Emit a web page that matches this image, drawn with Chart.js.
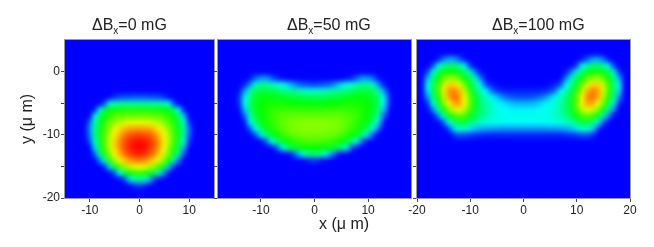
<!DOCTYPE html>
<html>
<head>
<meta charset="utf-8">
<script src="https://cdn.jsdelivr.net/npm/chart.js@4"></script>
<style>
  html, body { margin: 0; padding: 0; background: #fff; }
  #wrap { position: relative; width: 654px; height: 247px; overflow: hidden; font-family: "Liberation Sans", Arial, sans-serif; color: #222; }
  canvas { position: absolute; left: 0; top: 0; }
  .title { position: absolute; top: 16px; font-size: 16px; line-height: 18px; white-space: nowrap; }
  .title sub { font-size: 10px; line-height: 0; vertical-align: -4px; }
  #xTitle { position: absolute; left: 319px; top: 214px; font-size: 16px; line-height: 20px; white-space: nowrap; }
</style>
</head>
<body>
<div id="wrap">
  <canvas id="c1" width="654" height="247"></canvas>
  <canvas id="c2" width="654" height="247"></canvas>
  <canvas id="c3" width="654" height="247"></canvas>
  <div class="title" style="left:92px">ΔB<sub>x</sub>=0 mG</div>
  <div class="title" style="left:287px">ΔB<sub>x</sub>=50 mG</div>
  <div class="title" style="left:492px">ΔB<sub>x</sub>=100 mG</div>
  <div id="xTitle">x (μ m)</div>
</div>
<script>
// cell centres, y is shared by all three panels
const yRows = [5, 4, 3, 2, 1, 0, -1, -2, -3, -4, -5, -6, -7, -8, -9, -10, -11, -12, -13, -14, -15, -16, -17, -18, -19, -20];
const xCols1 = [-15, -14, -13, -12, -11, -10, -9, -8, -7, -6, -5, -4, -3, -2, -1, 0, 1, 2, 3, 4, 5, 6, 7, 8, 9, 10, 11, 12, 13, 14, 15];
const xCols2 = [-18, -17, -16, -15, -14, -13, -12, -11, -10, -9, -8, -7, -6, -5, -4, -3, -2, -1, 0, 1, 2, 3, 4, 5, 6, 7, 8, 9, 10, 11, 12, 13, 14, 15, 16, 17, 18];
const xCols3 = [-20, -19, -18, -17, -16, -15, -14, -13, -12, -11, -10, -9, -8, -7, -6, -5, -4, -3, -2, -1, 0, 1, 2, 3, 4, 5, 6, 7, 8, 9, 10, 11, 12, 13, 14, 15, 16, 17, 18, 19, 20];

const xTicks1 = [-10, 0, 10];
const xTicks2 = [-10, 0, 10];
const xTicks3 = [-20, -10, 0, 10, 20];
const yTicks = [0, -5, -10, -15, -20];

// intensity, 0 = blue, 100 = red. An empty row is all blue
const values0mG = [
  [], [], [], [], [], [], [], [], [],
  [0, 0, 0, 0, 0, 0, 0, 0, 0, 1, 5, 7, 8, 8, 9, 9, 9, 8, 8, 7, 5, 1, 0, 0, 0, 0, 0, 0, 0, 0, 0],
  [0, 0, 0, 0, 0, 0, 0, 0, 8, 30, 34, 36, 36, 36, 36, 36, 36, 36, 36, 35, 33, 28, 7, 0, 0, 0, 0, 0, 0, 0, 0],
  [0, 0, 0, 0, 0, 0, 2, 28, 44, 50, 52, 52, 53, 53, 53, 53, 53, 53, 52, 52, 50, 48, 42, 25, 2, 0, 0, 0, 0, 0, 0],
  [0, 0, 0, 0, 0, 0, 26, 42, 50, 55, 58, 60, 60, 61, 61, 61, 61, 61, 60, 59, 57, 54, 49, 40, 22, 0, 0, 0, 0, 0, 0],
  [0, 0, 0, 0, 0, 10, 32, 46, 54, 60, 65, 68, 71, 72, 73, 73, 73, 72, 70, 67, 63, 58, 53, 44, 30, 6, 0, 0, 0, 0, 0],
  [0, 0, 0, 0, 0, 14, 34, 48, 56, 64, 72, 78, 82, 84, 85, 85, 85, 84, 81, 76, 70, 62, 55, 47, 33, 12, 0, 0, 0, 0, 0],
  [0, 0, 0, 0, 0, 12, 34, 48, 58, 67, 76, 83, 88, 92, 93, 94, 93, 92, 88, 82, 74, 65, 56, 47, 33, 10, 0, 0, 0, 0, 0],
  [0, 0, 0, 0, 0, 7, 30, 47, 58, 69, 79, 86, 92, 96, 98, 99, 98, 96, 92, 85, 76, 66, 56, 45, 28, 5, 0, 0, 0, 0, 0],
  [0, 0, 0, 0, 0, 0, 21, 44, 56, 68, 78, 86, 92, 97, 99, 100, 99, 96, 91, 84, 74, 63, 53, 42, 18, 0, 0, 0, 0, 0, 0],
  [0, 0, 0, 0, 0, 0, 8, 34, 51, 63, 74, 82, 89, 93, 96, 97, 95, 92, 87, 79, 70, 59, 48, 32, 6, 0, 0, 0, 0, 0, 0],
  [0, 0, 0, 0, 0, 0, 0, 12, 30, 54, 64, 73, 80, 85, 87, 88, 86, 83, 78, 71, 62, 51, 28, 10, 0, 0, 0, 0, 0, 0, 0],
  [0, 0, 0, 0, 0, 0, 0, 0, 4, 22, 46, 57, 64, 69, 72, 73, 71, 68, 63, 55, 44, 20, 3, 0, 0, 0, 0, 0, 0, 0, 0],
  [0, 0, 0, 0, 0, 0, 0, 0, 0, 0, 8, 25, 42, 50, 53, 54, 53, 49, 41, 33, 14, 1, 0, 0, 0, 0, 0, 0, 0, 0, 0],
  [0, 0, 0, 0, 0, 0, 0, 0, 0, 0, 0, 0, 6, 22, 31, 34, 31, 20, 6, 0, 0, 0, 0, 0, 0, 0, 0, 0, 0, 0, 0],
  [0, 0, 0, 0, 0, 0, 0, 0, 0, 0, 0, 0, 0, 0, 4, 6, 4, 0, 0, 0, 0, 0, 0, 0, 0, 0, 0, 0, 0, 0, 0],
  [], []
];
const values50mG = [
  [], [], [], [], [], [],
  [0, 0, 0, 0, 0, 0, 2, 10, 15, 15, 10, 4, 1, 0, 0, 0, 0, 0, 0, 0, 0, 0, 0, 0, 1, 4, 10, 15, 15, 10, 2, 0, 0, 0, 0, 0, 0],
  [0, 0, 0, 0, 0, 3, 14, 31, 36, 36, 34, 30, 27, 22, 16, 11, 9, 8, 7, 8, 9, 11, 16, 22, 27, 30, 34, 36, 36, 31, 14, 3, 0, 0, 0, 0, 0],
  [0, 0, 0, 0, 1, 16, 34, 42, 44, 44, 43, 41, 39, 37, 36, 34, 32, 31, 30, 31, 32, 34, 36, 37, 39, 41, 43, 44, 44, 42, 34, 16, 1, 0, 0, 0, 0],
  [0, 0, 0, 0, 4, 24, 38, 46, 48, 49, 49, 48, 47, 46, 45, 44, 43, 43, 42, 43, 43, 44, 45, 46, 47, 48, 49, 49, 48, 46, 38, 24, 4, 0, 0, 0, 0],
  [0, 0, 0, 0, 4, 25, 40, 47, 50, 51, 52, 52, 52, 51, 50, 50, 49, 49, 49, 49, 49, 50, 50, 51, 52, 52, 52, 51, 50, 47, 40, 25, 4, 0, 0, 0, 0],
  [0, 0, 0, 0, 1, 19, 38, 46, 50, 52, 54, 55, 56, 56, 56, 56, 56, 55, 55, 55, 56, 56, 56, 56, 56, 55, 54, 52, 50, 46, 38, 19, 1, 0, 0, 0, 0],
  [0, 0, 0, 0, 0, 9, 32, 44, 49, 52, 55, 57, 58, 59, 60, 60, 60, 60, 60, 60, 60, 60, 60, 59, 58, 57, 55, 52, 49, 44, 32, 9, 0, 0, 0, 0, 0],
  [0, 0, 0, 0, 0, 1, 24, 39, 47, 51, 54, 57, 59, 61, 62, 63, 63, 63, 63, 63, 63, 63, 62, 61, 59, 57, 54, 51, 47, 39, 24, 1, 0, 0, 0, 0, 0],
  [0, 0, 0, 0, 0, 0, 8, 25, 40, 47, 52, 55, 58, 60, 62, 62, 63, 63, 63, 63, 63, 62, 62, 60, 58, 55, 52, 47, 40, 25, 8, 0, 0, 0, 0, 0, 0],
  [0, 0, 0, 0, 0, 0, 0, 6, 22, 37, 45, 50, 54, 57, 59, 60, 61, 61, 61, 61, 61, 60, 59, 57, 54, 50, 45, 37, 22, 6, 0, 0, 0, 0, 0, 0, 0],
  [0, 0, 0, 0, 0, 0, 0, 0, 0, 8, 25, 38, 46, 50, 53, 55, 56, 57, 57, 57, 56, 55, 53, 50, 46, 38, 25, 8, 0, 0, 0, 0, 0, 0, 0, 0, 0],
  [0, 0, 0, 0, 0, 0, 0, 0, 0, 0, 0, 8, 24, 36, 43, 47, 49, 50, 50, 50, 49, 47, 43, 36, 24, 8, 0, 0, 0, 0, 0, 0, 0, 0, 0, 0, 0],
  [0, 0, 0, 0, 0, 0, 0, 0, 0, 0, 0, 0, 0, 0, 6, 18, 28, 36, 37, 36, 28, 18, 6, 0, 0, 0, 0, 0, 0, 0, 0, 0, 0, 0, 0, 0, 0],
  [0, 0, 0, 0, 0, 0, 0, 0, 0, 0, 0, 0, 0, 0, 0, 0, 0, 3, 5, 3, 0, 0, 0, 0, 0, 0, 0, 0, 0, 0, 0, 0, 0, 0, 0, 0, 0],
  [], [], [], [], [], []
];
const values100mG = [
  [], [], [],
  [0, 0, 0, 0, 2, 12, 17, 16, 9, 2, 0, 0, 0, 0, 0, 0, 0, 0, 0, 0, 0, 0, 0, 0, 0, 0, 0, 0, 0, 0, 0, 2, 9, 16, 17, 12, 2, 0, 0, 0, 0],
  [0, 0, 0, 6, 28, 36, 40, 40, 35, 27, 6, 0, 0, 0, 0, 0, 0, 0, 0, 0, 0, 0, 0, 0, 0, 0, 0, 0, 0, 0, 6, 27, 35, 40, 40, 36, 28, 6, 0, 0, 0],
  [0, 0, 6, 30, 42, 49, 52, 51, 47, 40, 32, 12, 2, 0, 0, 0, 0, 0, 0, 0, 0, 0, 0, 0, 0, 0, 0, 0, 2, 12, 32, 40, 47, 51, 52, 49, 42, 30, 6, 0, 0],
  [0, 0, 18, 37, 50, 60, 65, 64, 59, 50, 41, 31, 12, 1, 0, 0, 0, 0, 0, 0, 0, 0, 0, 0, 0, 0, 0, 1, 12, 31, 41, 50, 59, 64, 65, 60, 50, 37, 18, 0, 0],
  [0, 0, 25, 41, 55, 70, 79, 79, 72, 60, 48, 36, 25, 7, 3, 1, 0, 0, 0, 0, 0, 0, 0, 0, 0, 1, 3, 7, 25, 36, 48, 60, 72, 79, 79, 70, 55, 41, 25, 0, 0],
  [0, 0, 22, 41, 56, 72, 85, 88, 82, 69, 54, 42, 33, 25, 12, 6, 4, 3, 3, 3, 3, 3, 3, 3, 4, 6, 12, 25, 33, 42, 54, 69, 82, 88, 85, 72, 56, 41, 22, 0, 0],
  [0, 0, 14, 37, 52, 68, 83, 90, 86, 74, 58, 46, 38, 32, 27, 20, 14, 11, 9, 8, 8, 8, 9, 11, 14, 20, 27, 32, 38, 46, 58, 74, 86, 90, 83, 68, 52, 37, 14, 0, 0],
  [0, 0, 3, 27, 46, 60, 74, 83, 84, 74, 59, 47, 39, 34, 30, 27, 24, 21, 19, 18, 18, 18, 19, 21, 24, 27, 30, 34, 39, 47, 59, 74, 84, 83, 74, 60, 46, 27, 3, 0, 0],
  [0, 0, 0, 12, 32, 50, 62, 70, 73, 67, 56, 46, 39, 34, 30, 28, 26, 25, 24, 24, 24, 24, 24, 25, 26, 28, 30, 34, 39, 46, 56, 67, 73, 70, 62, 50, 32, 12, 0, 0, 0],
  [0, 0, 0, 0, 12, 30, 47, 54, 58, 55, 48, 42, 37, 33, 30, 28, 27, 27, 27, 27, 27, 27, 27, 27, 27, 28, 30, 33, 37, 42, 48, 55, 58, 54, 47, 30, 12, 0, 0, 0, 0],
  [0, 0, 0, 0, 0, 8, 26, 38, 44, 43, 38, 33, 30, 28, 27, 26, 26, 25, 25, 25, 25, 25, 25, 25, 26, 26, 27, 28, 30, 33, 38, 43, 44, 38, 26, 8, 0, 0, 0, 0, 0],
  [0, 0, 0, 0, 0, 0, 5, 22, 29, 29, 23, 19, 17, 16, 15, 15, 14, 14, 14, 14, 14, 14, 14, 14, 14, 15, 15, 16, 17, 19, 23, 29, 29, 22, 5, 0, 0, 0, 0, 0, 0],
  [0, 0, 0, 0, 0, 0, 0, 4, 8, 7, 5, 4, 4, 3, 3, 3, 3, 3, 3, 3, 3, 3, 3, 3, 3, 3, 3, 3, 4, 4, 5, 7, 8, 4, 0, 0, 0, 0, 0, 0, 0],
  [], [], [], [], [], [], [], [], [], []
];

const colorStops = [
  [0, [0, 0, 255]],
  [25, [0, 255, 255]],
  [50, [0, 255, 0]],
  [75, [255, 255, 0]],
  [100, [255, 0, 0]]
];

function cellColor(v) {
  for (let i = 1; i < colorStops.length; i++) {
    const [v0, c0] = colorStops[i - 1];
    const [v1, c1] = colorStops[i];
    if (v <= v1) {
      const t = (v - v0) / (v1 - v0);
      return `rgb(${c0.map((c, k) => Math.round(c + (c1[k] - c) * t)).join(",")})`;
    }
  }
  return "rgb(255,0,0)";
}

// one dataset per row, each cell is a floating bar
function rowDatasets(values, xCols) {
  return yRows.map((y, r) => ({
    data: xCols.map(x => ({ x, y: [y - 0.5, y + 0.5] })),
    backgroundColor: xCols.map((x, c) => cellColor(values[r][c] || 0)),
    barPercentage: 1,
    categoryPercentage: 1,
    grouped: false,
    borderWidth: 0
  }));
}

// smooths the cells like the original image, then draws the frame
const smoothFrame = {
  id: "smoothFrame",
  afterDatasetsDraw(chart) {
    const { ctx, chartArea: a } = chart;
    const w = a.right - a.left, h = a.bottom - a.top;
    ctx.save();
    ctx.beginPath();
    ctx.rect(a.left, a.top, w, h);
    ctx.clip();
    ctx.filter = "blur(2.5px)";
    ctx.drawImage(chart.canvas, a.left, a.top, w, h, a.left, a.top, w, h);
    ctx.restore();
    ctx.save();
    ctx.strokeStyle = "#9a9a9a";
    ctx.lineWidth = 1;
    ctx.strokeRect(a.left - 0.5, a.top - 0.5, w + 1, h + 1);
    ctx.restore();
  }
};

function makePanel(id, values, xCols, xRange, xTicks, padding, opts) {
  new Chart(document.getElementById(id), {
    type: "bar",
    data: { datasets: rowDatasets(values, xCols) },
    options: {
      responsive: false,
      animation: false,
      layout: { padding },
      plugins: { legend: { display: false }, tooltip: { enabled: false } },
      scales: {
        x: {
          type: "linear",
          offset: false,
          min: xRange[0],
          max: xRange[1],
          afterBuildTicks: s => { s.ticks = xTicks.map(value => ({ value })); },
          afterFit: s => { s.height = 49; },
          grid: { offset: false, drawOnChartArea: false, tickLength: 4, tickColor: "#444" },
          border: { color: "#8a8a8a", width: 1 },
          ticks: { autoSkip: false, maxRotation: 0, padding: 1, color: "#222", font: { family: "Liberation Sans", size: 12 } }
        },
        y: {
          min: -20,
          max: 5,
          beginAtZero: false,
          afterBuildTicks: s => { s.ticks = yTicks.map(value => ({ value })); },
          afterFit: s => { s.width = opts.yWidth; },
          grid: { drawOnChartArea: false, tickLength: 4, tickColor: "#444" },
          border: { color: opts.yBorder, width: opts.yBorderWidth },
          ticks: {
            autoSkip: false,
            padding: 1,
            color: "#222",
            font: { family: "Liberation Sans", size: 12 },
            callback: v => (opts.yLabels && v % 10 === 0 ? v : "")
          },
          title: { display: !!opts.yTitle, text: opts.yTitle, color: "#222", font: { family: "Liberation Sans", size: 16 }, padding: { top: 18, bottom: 0 } }
        }
      }
    },
    plugins: [smoothFrame]
  });
}

makePanel("c1", values0mG, xCols1, [-15, 15], xTicks1,
  { left: 0, top: 40, right: 440, bottom: 0 },
  { yWidth: 65, yBorder: "#8a8a8a", yBorderWidth: 2, yLabels: true, yTitle: "y (μ m)" });
makePanel("c2", values50mG, xCols2, [-18, 18], xTicks2,
  { left: 213, top: 40, right: 243, bottom: 0 },
  { yWidth: 5, yBorder: "#9a9a9a", yBorderWidth: 1 });
makePanel("c3", values100mG, xCols3, [-20, 20], xTicks3,
  { left: 412, top: 40, right: 24, bottom: 0 },
  { yWidth: 5, yBorder: "#444", yBorderWidth: 2 });
</script>
</body>
</html>
